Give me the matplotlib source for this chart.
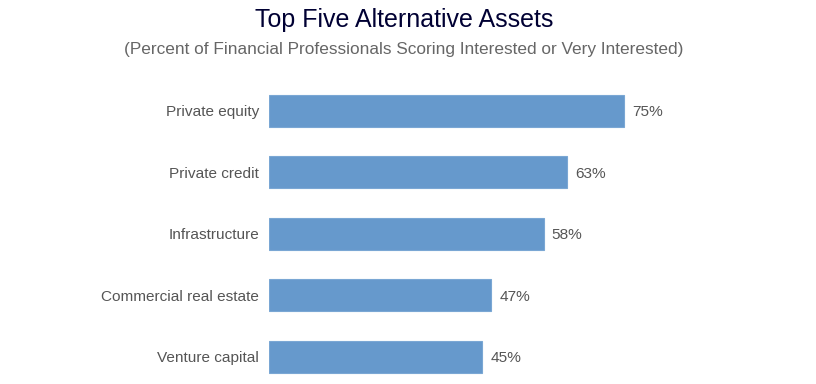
import matplotlib
matplotlib.use("Agg")
from matplotlib import pyplot as plt

categories = ["Private equity", "Private credit", "Infrastructure",
              "Commercial real estate", "Venture capital"]
values = [75, 63, 58, 47, 45]
value_labels = ["75%", "63%", "58%", "47%", "45%"]

title = "Top Five Alternative Assets"
subtitle = "(Percent of Financial Professionals Scoring Interested or Very Interested)"

plt.rcParams['font.family'] = ['Liberation Sans', 'DejaVu Sans']

W, H = 816, 384
fig = plt.figure(figsize=(W / 100, H / 100), dpi=100)

# axes placed in pixel terms: bars start at x=269, 4.733 px per percent
x0, x1 = 269, 800
ax = fig.add_axes([x0 / W, 0, (x1 - x0) / W, (H - 80) / H])
ax.set_xlim(0, (x1 - x0) / 4.733)
ax.set_ylim(4 + (H - 356.8) / 61.5, -0.5)

ypos = list(range(len(categories)))
ax.barh(ypos, values, height=0.514, color="#6699cc", edgecolor="#7aa7d4", linewidth=0.8)

for y, v, lab in zip(ypos, values, value_labels):
    ax.annotate(lab, (v, y), xytext=(6, 0), textcoords="offset points",
                va="center_baseline", ha="left", fontsize=11.1, color="#555555")

ax.set_yticks(ypos)
ax.set_yticklabels(categories, fontsize=11.1, color="#555555", va="center_baseline")
ax.tick_params(axis="y", length=0, pad=7)
ax.set_xticks([])
for s in ax.spines.values():
    s.set_visible(False)

fig.text(404 / W, 1 - 27 / H, title, ha="center", va="baseline",
         fontsize=18, color="#000033")
fig.text(404 / W, 1 - 54 / H, subtitle, ha="center", va="baseline",
         fontsize=12.4, color="#666666")

fig.savefig("out.png", dpi=100)
